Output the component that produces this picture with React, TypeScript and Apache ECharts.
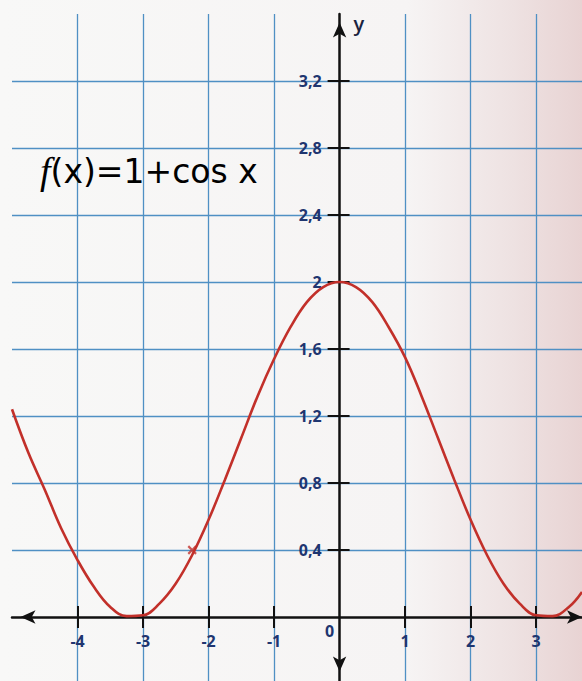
import React, { useEffect, useRef } from 'react';
import * as echarts from 'echarts';

// Axis ranges
const xMin = -5;
const xMax = 3.7;
const yMin = -0.4;
const yMax = 3.6;

// Tick / label values
const xTickValues = [-4, -3, -2, -1, 1, 2, 3];
const xLabelValues = [-4, -3, -2, -1, 0, 1, 2, 3];
const yTickValues = [0.4, 0.8, 1.2, 1.6, 2, 2.4, 2.8, 3.2];

// Curve f(x) = 1 + cos x
const curveX = [-5, -4.75, -4.5, -4.25, -4, -3.75, -3.5, -3.25, -3, -2.75, -2.5, -2.25, -2, -1.75, -1.5, -1.25, -1, -0.75, -0.5, -0.25, 0, 0.25, 0.5, 0.75, 1, 1.25, 1.5, 1.75, 2, 2.25, 2.5, 2.75, 3, 3.25, 3.5, 3.7];
const curveY = [1.24, 0.98, 0.76, 0.53, 0.34, 0.18, 0.06, 0.005, 0.01, 0.08, 0.2, 0.37, 0.58, 0.82, 1.07, 1.32, 1.54, 1.73, 1.88, 1.97, 2.0, 1.97, 1.88, 1.73, 1.55, 1.32, 1.07, 0.82, 0.58, 0.37, 0.2, 0.08, 0.01, 0.005, 0.06, 0.15];

// The small cross drawn on the curve
const markX = [-2.25];
const markY = [0.4];

const titleText = '{f|f}{p|(}{v|x}{p|)}{o|=}{v|1}{o|+}{v|cos x}';

const navy = '#1f3670';
const red = '#c2302a';
const gridBlue = '#4f90c4';
const black = '#111111';

const W = 582;
const H = 681;
const gridLeft = 12;
const gridRight = 0;
const gridTop = 14;
const gridBottom = -3;

export default function App() {
  const ref = useRef<HTMLDivElement>(null);
  useEffect(() => {
    if (!ref.current) return;
    const chart = echarts.init(ref.current, null, { renderer: 'svg' });
    const plotW = W - gridLeft - gridRight;
    const plotH = H - gridTop - gridBottom;
    // put the axes through the origin (axis offsets from the grid edges)
    const yAxisOffset = -((0 - xMin) / (xMax - xMin)) * plotW;
    const xAxisOffset = -((0 - yMin) / (yMax - yMin)) * plotH;
    const labelFont = { fontFamily: 'Open Sans', fontSize: 16, fontWeight: 700, color: navy };
    const tickLine = { color: black, width: 2 };
    const option: any = {
      animation: false,
      backgroundColor: {
        type: 'linear', x: 0, y: 0, x2: 1, y2: 0,
        colorStops: [
          { offset: 0, color: '#f8f8f7' },
          { offset: 0.7, color: '#f6f4f4' },
          { offset: 0.88, color: '#eee2e2' },
          { offset: 1, color: '#e8d3d3' },
        ],
      },
      grid: { left: gridLeft, right: gridRight, top: gridTop, bottom: gridBottom, outerBoundsMode: 'none' },
      xAxis: [
        {
          type: 'value', min: xMin, max: xMax, interval: 1, position: 'bottom', offset: xAxisOffset,
          axisLine: {
            show: true, onZero: false, symbol: ['arrow', 'arrow'], symbolSize: [10, 15], symbolOffset: [8.5, 0],
            lineStyle: { color: black, width: 2.5 },
          },
          axisTick: { show: true, customValues: xTickValues, length: 11, lineStyle: tickLine },
          axisLabel: {
            customValues: xLabelValues, margin: 6,
            formatter: (v: number) => (v === 0 ? '{z|0}' : '{n|' + v + '}'),
            rich: {
              z: { ...labelFont, padding: [0, 20, 0, 0] },
              n: { ...labelFont, padding: [10, 0, 0, 0] },
            },
          },
          splitLine: { show: true, lineStyle: { color: gridBlue, width: 1.3 } },
        },
        {
          type: 'value', min: xMin, max: xMax, interval: 1, position: 'bottom', offset: xAxisOffset,
          axisLine: { show: false, onZero: false },
          axisTick: { show: true, inside: true, customValues: xTickValues, length: 11, lineStyle: tickLine },
          axisLabel: { show: false },
          splitLine: { show: false },
        },
      ],
      yAxis: [
        {
          type: 'value', min: yMin, max: yMax, interval: 0.4, position: 'left', offset: yAxisOffset,
          name: 'y', nameLocation: 'end', nameGap: -19,
          nameTextStyle: { fontFamily: 'Open Sans', fontSize: 20, fontWeight: 600, color: '#1a2340', align: 'left', verticalAlign: 'bottom', padding: [0, 0, 0, 14] },
          axisLine: {
            show: true, onZero: false, symbol: ['arrow', 'arrow'], symbolSize: [10, 15], symbolOffset: [12.5, -8.5],
            lineStyle: { color: black, width: 2.5 },
          },
          axisTick: { show: true, customValues: yTickValues, length: 12, lineStyle: tickLine },
          axisLabel: {
            customValues: yTickValues, margin: 18, ...labelFont,
            formatter: (v: number) => String(Math.round(v * 10) / 10).replace('.', ','),
          },
          splitLine: { show: true, lineStyle: { color: gridBlue, width: 1.3 } },
        },
        {
          type: 'value', min: yMin, max: yMax, interval: 0.4, position: 'left', offset: yAxisOffset,
          axisLine: { show: false, onZero: false },
          axisTick: { show: true, inside: true, customValues: yTickValues, length: 10, lineStyle: tickLine },
          axisLabel: { show: false },
          splitLine: { show: false },
        },
      ],
      series: [
        {
          type: 'line',
          data: curveX.map((x, i) => [x, curveY[i]]),
          smooth: 0.4, showSymbol: false, symbol: 'none',
          lineStyle: { color: red, width: 2.6 },
          z: 5,
        },
        {
          type: 'scatter',
          data: markX.map((x, i) => [x, markY[i]]),
          symbol: 'path://M4,0H6V4H10V6H6V10H4V6H0V4H4Z',
          symbolSize: 11, symbolRotate: 45,
          itemStyle: { color: red },
          z: 6,
        },
      ],
      graphic: [
        {
          type: 'text', left: 40, top: 152, z: 10,
          style: {
            text: titleText,
            rich: {
              f: { fontFamily: 'Liberation Serif', fontStyle: 'italic', fontSize: 38, color: '#2a2030' },
              p: { fontFamily: 'DejaVu Sans', fontSize: 33, color: '#7e2a22' },
              v: { fontFamily: 'DejaVu Sans', fontSize: 33, color: '#1e2a58' },
              o: { fontFamily: 'DejaVu Sans', fontSize: 33, color: '#b8302a' },
            },
          },
        },
      ],
    };
    chart.setOption(option);
    return () => chart.dispose();
  }, []);
  return (
    <div
      ref={ref}
      style={{ position: 'absolute', left: 0, top: 0, width: W, height: H }}
    />
  );
}
